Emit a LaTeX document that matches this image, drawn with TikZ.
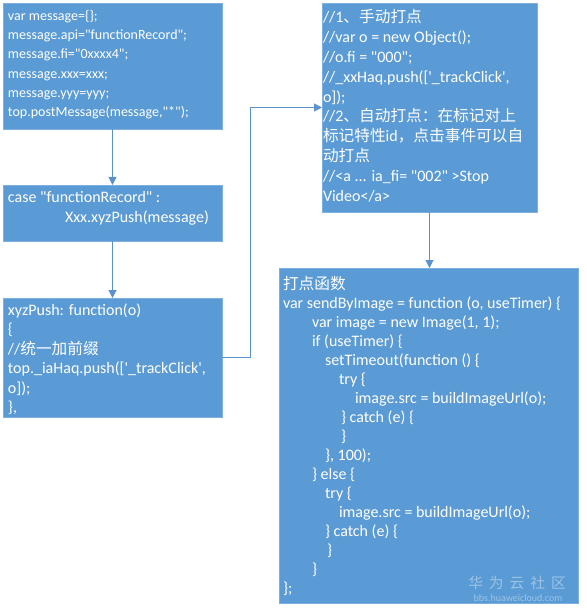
\documentclass[tikz,border=0pt]{standalone}
\usepackage{fontspec}
\setmainfont{Carlito}[Ligatures=TeXOff]
\newfontfamily\cjk{Noto Sans CJK SC}[Scale=0.98]
\usetikzlibrary{arrows.meta}
\definecolor{boxblue}{RGB}{91,155,213}
\definecolor{boxedge}{RGB}{125,175,224}
\definecolor{lineblue}{RGB}{91,145,205}
\newcommand\fs[2]{\fontsize{#1}{#2}\selectfont}
\newcommand\st{\rule{0pt}{14pt}}
\newcommand\stb{\rule{0pt}{15pt}}
\newcommand\ind[1]{\hspace*{#1pt}}
\begin{document}
\begin{tikzpicture}[x=1pt,y=-1pt,
  box/.style={draw=boxedge, fill=boxblue, line width=0.8pt, anchor=north west, inner sep=0pt, outer sep=0pt},
  code/.style={anchor=north west, inner sep=0pt, outer sep=0pt, text=white, align=left},
  arr/.style={draw=lineblue, line width=1pt, -{Triangle[width=8pt,length=8pt]}}]
\useasboundingbox (0,0) rectangle (586,612);

% boxes
\node[box, minimum width=219pt, minimum height=126pt] (b1) at (3,3) {};
\node[box, minimum width=219pt, minimum height=56pt] (b2) at (3,185) {};
\node[box, minimum width=219pt, minimum height=119pt] (b3) at (3,298) {};
\node[box, minimum width=215pt, minimum height=209pt] (b4) at (322,3) {};
\node[box, minimum width=299pt, minimum height=335pt] (b5) at (279,268) {};

% texts
\node[code, font=\fs{14}{19.2}] (t1) at (8,6.5) {\st var message=\{\};\\
message.api="functionRecord";\\
message.fi="0xxxx4";\\
message.xxx=xxx;\\
message.yyy=yyy;\\
top.postMessage(message,"*");};

\node[code, font=\fs{16}{20}] (t2) at (8,187.5) {\stb case "functionRecord" :\\
\ind{57}Xxx.xyzPush(message)};

\node[code, font=\fs{16}{19.4}] (t3) at (8,300.5) {\stb xyzPush: function(o)\\
\{\\
//{\cjk 统一加前缀}\\
top.\_iaHaq.push(['\_trackClick',\\
o]);\\
\},};

\node[code, font=\fs{16}{19.9}] (t4) at (323,7.5) {\stb //1{\cjk 、手动打点}\\
//var o = new Object();\\
//o.fi = "000";\\
//\_xxHaq.push(['\_trackClick',\\
o]);\\
//2{\cjk 、自动打点：在标记对上}\\
{\cjk 标记特性}id{\cjk ，点击事件可以自}\\
{\cjk 动打点}\\
//<a ... ia\_fi= "002" >Stop\\
Video</a>};

\node[code, font=\fs{16}{19}] (t5) at (283,274) {\stb {\cjk 打点函数}\\
var sendByImage = function (o, useTimer) \{\\
\ind{29}var image = new Image(1, 1);\\
\ind{29}if (useTimer) \{\\
\ind{42}setTimeout(function () \{\\
\ind{56}try \{\\
\ind{72}image.src = buildImageUrl(o);\\
\ind{58}\} catch (e) \{\\
\ind{58}\}\\
\ind{42}\}, 100);\\
\ind{29}\} else \{\\
\ind{42}try \{\\
\ind{56}image.src = buildImageUrl(o);\\
\ind{42}\} catch (e) \{\\
\ind{44}\}\\
\ind{29}\}\\
\};};

% watermark
\node[anchor=center, inner sep=0pt, text=white, opacity=0.4, font=\cjk\fontsize{15}{15}\selectfont] (wm1) at (517,583) {华\hspace{6pt}为\hspace{6pt}云\hspace{6pt}社\hspace{6pt}区};
\node[anchor=center, inner sep=0pt, text=white, opacity=0.4, font=\fontsize{10}{10}\selectfont] (wm2) at (518,598) {bbs.huaweicloud.com};

% connectors
\draw[arr] (b1.south) -- (b2.north);
\draw[arr] (b2.south) -- (b3.north);
\draw[arr] (b3.east) -- ++(28,0) |- (b4.west);
\draw[arr] (b4.south) -- (b4.south |- b5.north);
\end{tikzpicture}
\end{document}
